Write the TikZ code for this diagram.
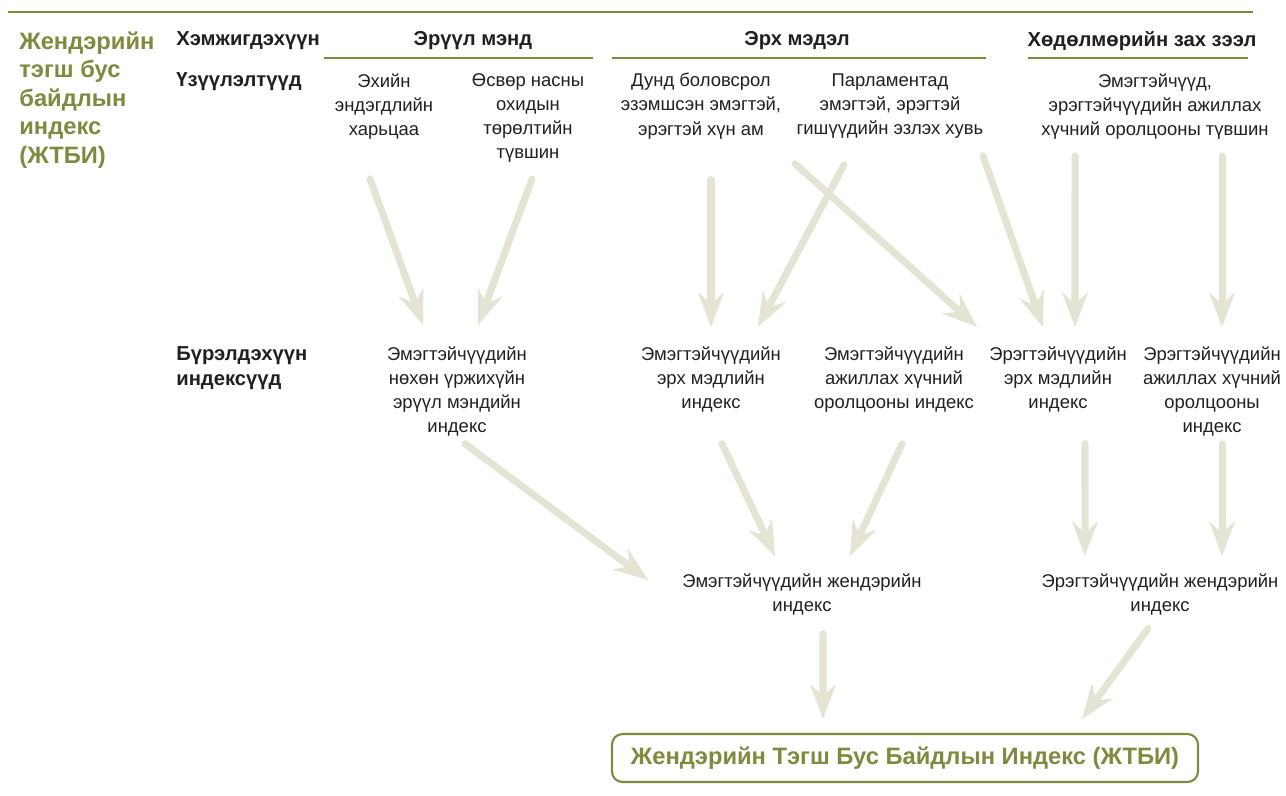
\documentclass[tikz,border=0pt]{standalone}
\usepackage{fontspec}
\setmainfont{Liberation Sans}
\definecolor{giigreen}{RGB}{127,138,63}
\definecolor{flowgray}{RGB}{229,227,212}
\definecolor{inkblack}{RGB}{35,31,32}
\usepackage{tikz}
\usetikzlibrary{arrows.meta, positioning, calc}

\begin{document}
\begin{tikzpicture}[
  flow/.style={draw=flowgray, line width=4pt, line cap=round, -{Stealth[length=20pt, width=15pt, inset=7pt, line width=0pt]}},
  ind/.style={anchor=north, inner sep=0pt, align=center, font=\fontsize{10.5}{13.7}\selectfont, text=inkblack},
  hdr/.style={anchor=north, inner sep=0pt, font=\fontsize{11.5}{14}\selectfont\bfseries, text=inkblack},
  rowlbl/.style={anchor=north west, inner sep=0pt, align=left, font=\fontsize{11.5}{14.2}\selectfont\bfseries, text=inkblack},
  rule/.style={draw=giigreen, line width=1.1pt},
  giibox/.style={draw=giigreen, line width=1.2pt, rounded corners=6pt, minimum width=11.72cm, minimum height=0.96cm, inner sep=0pt, font=\fontsize{13.5}{16}\selectfont\bfseries, text=giigreen}
]
  \useasboundingbox (0,0) rectangle (25.72,-15.9);

  \draw[rule, line width=1.4pt] (0.16,-0.24) -- (25.06,-0.24);
  \draw[rule] (6.48,-1.16) -- (11.86,-1.16);
  \draw[rule] (12.24,-1.16) -- (19.72,-1.16);
  \draw[rule] (20.56,-1.16) -- (24.96,-1.16);

  \node[anchor=north west, inner sep=0pt, align=left, font=\fontsize{13.5}{16.2}\selectfont\bfseries, text=giigreen] (title) at (0.38,-0.63) {Жендэрийн\\тэгш бус\\байдлын\\индекс\\(ЖТБИ)};

  \node[rowlbl] (hdrmeas) at (3.52,-0.62) {Хэмжигдэхүүн};
  \node[hdr] (hdrhealth) at (9.46,-0.62) {Эрүүл мэнд};
  \node[hdr] (hdrpower) at (15.94,-0.62) {Эрх мэдэл};
  \node[hdr] (hdrlabour) at (22.84,-0.62) {Хөдөлмөрийн зах зээл};
  \node[rowlbl] (lblind) at (3.52,-1.45) {Үзүүлэлтүүд};
  \node[rowlbl] (lblcomp) at (3.52,-6.92) {Бүрэлдэхүүн\\индексүүд};

  \node[ind] (mmr) at (7.68,-1.46) {Эхийн\\эндэгдлийн\\харьцаа};
  \node[ind] (abr) at (10.56,-1.46) {Өсвөр насны\\охидын\\төрөлтийн\\түвшин};
  \node[ind] (edu) at (14.02,-1.46) {Дунд боловсрол\\эзэмшсэн эмэгтэй,\\эрэгтэй хүн ам};
  \node[ind] (parl) at (17.8,-1.46) {Парламентад\\эмэгтэй, эрэгтэй\\гишүүдийн эзлэх хувь};
  \node[ind] (lfpr) at (23.1,-1.46) {Эмэгтэйчүүд,\\эрэгтэйчүүдийн ажиллах\\хүчний оролцооны түвшин};

  \node[ind] (hlth) at (9.14,-6.92) {Эмэгтэйчүүдийн\\нөхөн үржихүйн\\эрүүл мэндийн\\индекс};
  \node[ind] (wpow) at (14.22,-6.92) {Эмэгтэйчүүдийн\\эрх мэдлийн\\индекс};
  \node[ind] (wlab) at (17.88,-6.92) {Эмэгтэйчүүдийн\\ажиллах хүчний\\оролцооны индекс};
  \node[ind] (mpow) at (21.16,-6.92) {Эрэгтэйчүүдийн\\эрх мэдлийн\\индекс};
  \node[ind] (mlab) at (24.24,-6.92) {Эрэгтэйчүүдийн\\ажиллах хүчний\\оролцооны\\индекс};

  \node[ind] (wgi) at (16.04,-11.46) {Эмэгтэйчүүдийн жендэрийн\\индекс};
  \node[ind] (mgi) at (23.2,-11.46) {Эрэгтэйчүүдийн жендэрийн\\индекс};

  \node[giibox] (gii) at (18.1,-15.16) {Жендэрийн Тэгш Бус Байдлын Индекс (ЖТБИ)};

  \draw[flow] ([shift={(-0.28,-0.79)}]mmr.south) -- ([shift={(-0.68,0.42)}]hlth.north);
  \draw[flow] ([shift={(0.08,-0.33)}]abr.south) -- ([shift={(0.42,0.42)}]hlth.north);
  \draw[flow] ([shift={(0.2,-0.81)}]edu.south) -- ([shift={(0,0.38)}]wpow.north);
  \draw[flow] ([shift={(-0.92,-0.53)}]parl.south) -- ([shift={(0.94,0.38)}]wpow.north);
  \draw[flow] ([shift={(1.88,-0.49)}]edu.south) -- ([shift={(-1.62,0.38)}]mpow.north);
  \draw[flow] ([shift={(1.86,-0.35)}]parl.south) -- ([shift={(-0.3,0.38)}]mpow.north);
  \draw[flow] ([shift={(-1.6,-0.33)}]lfpr.south) -- ([shift={(3.62,0.38)}]wlab.north);
  \draw[flow] ([shift={(1.34,-0.33)}]lfpr.south) -- ([shift={(0.2,0.38)}]mlab.north);
  \draw[flow] ([shift={(0.16,-0.15)}]hlth.south) -- ([shift={(-3.08,-0.14)}]wgi.north);
  \draw[flow] ([shift={(0.22,-0.63)}]wpow.south) -- ([shift={(-0.54,0.34)}]wgi.north);
  \draw[flow] ([shift={(0.16,-0.63)}]wlab.south) -- ([shift={(0.96,0.34)}]wgi.north);
  \draw[flow] ([shift={(0.54,-0.63)}]mpow.south) -- ([shift={(-1.5,0.34)}]mgi.north);
  \draw[flow] ([shift={(0.2,-0.15)}]mlab.south) -- ([shift={(1.24,0.34)}]mgi.north);
  \draw[flow] ([shift={(0.42,-0.37)}]wgi.south) -- ([shift={(-1.64,0.28)}]gii.north);
  \draw[flow] ([shift={(-0.24,-0.27)}]mgi.south) -- ([shift={(3.54,0.28)}]gii.north);
\end{tikzpicture}
\end{document}
